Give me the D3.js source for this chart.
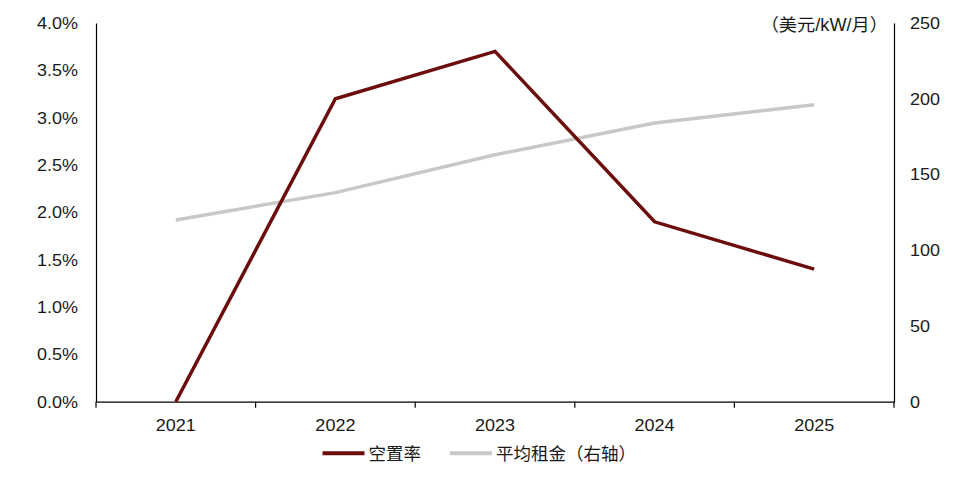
<!DOCTYPE html>
<html><head><meta charset="utf-8">
<script src="https://cdn.jsdelivr.net/npm/d3@7"></script>
<style>
html,body{margin:0;padding:0;background:#fff;}
text{font-family:"Liberation Sans",Arial,"Noto Sans CJK SC",sans-serif;transform-box:fill-box;}
</style></head>
<body><svg id="c" width="961" height="483"></svg>
<script>
const years = ["2021","2022","2023","2024","2025"];
const vacancy = [0.0, 3.2, 3.7, 1.9, 1.4];
const rent = [120, 138, 163, 184, 196];
const leftTicks = [0,0.5,1.0,1.5,2.0,2.5,3.0,3.5,4.0];
const rightTicks = [0,50,100,150,200,250];
const seriesNames = ["空置率","平均租金（右轴）"];
const unitLabel = "（美元/kW/月）";

const svg = d3.select("#c");
const m = {l:96, r:894, t:23, b:401.7};
const x = d3.scaleBand().domain(years).range([m.l, m.r]);
const yL = d3.scaleLinear().domain([0,4]).range([m.b, m.t]);
const yR = d3.scaleLinear().domain([0,250]).range([m.b, m.t]);
const fs = "17px", cfs = "17.5px", tc = "#1a1a1a";
function stretch(sel, origin, k){ sel.style("transform-origin", origin).style("transform", `scaleX(${k||1.06})`); }

// left axis
const gL = svg.append("g").attr("transform",`translate(${m.l},0)`)
  .call(d3.axisLeft(yL).tickValues(leftTicks).tickSize(0).tickPadding(18).tickFormat(d=>d.toFixed(1)+"%"));
gL.select(".domain").attr("stroke","#000").attr("stroke-width",1.2);
gL.selectAll("text").attr("font-size",fs).attr("fill",tc).attr("font-family","Liberation Sans, Arial").call(stretch,"right center");

// right axis
const gR = svg.append("g").attr("transform",`translate(${m.r},0)`)
  .call(d3.axisRight(yR).tickValues(rightTicks).tickSize(0).tickPadding(16));
gR.select(".domain").attr("stroke","#000").attr("stroke-width",1.2);
gR.selectAll("text").attr("font-size",fs).attr("fill",tc).attr("font-family","Liberation Sans, Arial").call(stretch,"left center");

// bottom axis
const gB = svg.append("g").attr("transform",`translate(0,${m.b})`)
  .call(d3.axisBottom(x).tickSize(0).tickPadding(17));
gB.select(".domain").attr("stroke","#000").attr("stroke-width",1.2);
gB.selectAll("text").attr("font-size",fs).attr("fill",tc).attr("font-family","Liberation Sans, Arial").call(stretch,"center center");
const bounds = years.map(y=>x(y)).concat([m.r]);
gB.selectAll(".sep").data(bounds).enter().append("line")
  .attr("x1",d=>d).attr("x2",d=>d).attr("y1",0).attr("y2",6).attr("stroke","#000").attr("stroke-width",1.2);

// unit label
svg.append("text").attr("x",m.r-6).attr("y",31).attr("text-anchor","end")
  .attr("font-size",cfs).attr("fill",tc).attr("font-family","Noto Sans CJK SC, sans-serif").text(unitLabel)
  .call(stretch,"right center",1.04);

const cx = d => x(d)+x.bandwidth()/2;
// rent line
svg.append("path").datum(rent.map((v,i)=>[cx(years[i]), yR(v)]))
  .attr("d", d3.line()).attr("fill","none").attr("stroke","#c8c8c6").attr("stroke-width",3.5);
// vacancy line
svg.append("path").datum(vacancy.map((v,i)=>[cx(years[i]), yL(v)]))
  .attr("d", d3.line()).attr("fill","none").attr("stroke","#6b0d0d").attr("stroke-width",3.5);

// legend
const lg = svg.append("g");
const items = [{n:seriesNames[0],c:"#6b0d0d",x:322.5},{n:seriesNames[1],c:"#c8c8c6",x:450}];
items.forEach(it=>{
  lg.append("line").attr("x1",it.x).attr("x2",it.x+42).attr("y1",453.3).attr("y2",453.3)
    .attr("stroke",it.c).attr("stroke-width",4);
  lg.append("text").attr("x",it.x+46).attr("y",460).attr("font-size",cfs).attr("fill",tc)
    .attr("font-family","Noto Sans CJK SC, sans-serif").text(it.n);
});
</script></body></html>
